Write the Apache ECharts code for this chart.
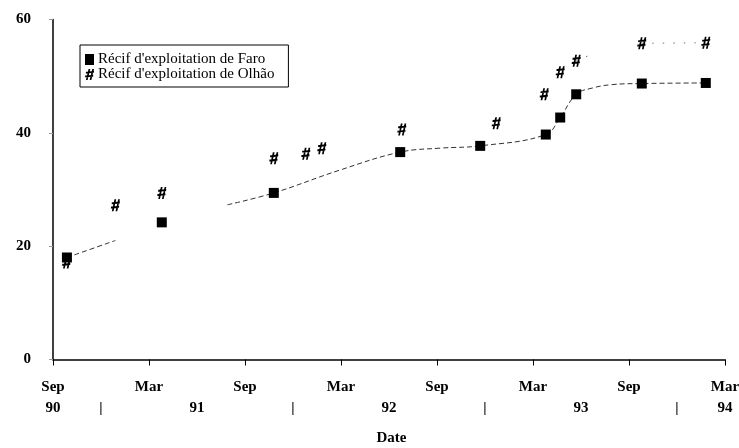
<!DOCTYPE html>
<html>
<head>
<meta charset="utf-8">
<script src="https://cdn.jsdelivr.net/npm/echarts@6/dist/echarts.min.js"></script>
<style>html,body{margin:0;padding:0;background:#fff}#c{width:739px;height:448px}</style>
</head>
<body>
<div id="c"></div>
<script>
// x values: months since 1 Sep 1990
const monthTicks = {0:'Sep',6:'Mar',12:'Sep',18:'Mar',24:'Sep',30:'Mar',36:'Sep',42:'Mar'};
const yearRow = {0:'90',3:'|',9:'91',15:'|',21:'92',27:'|',33:'93',39:'|',42:'94'};

const faroMonths = [0.87, 6.8, 13.8, 21.7, 26.7, 30.8, 31.7, 32.7, 36.8, 40.8];
const faroValues = [18.0, 24.2, 29.4, 36.6, 37.7, 39.7, 42.7, 46.8, 48.7, 48.8];

const olhaoMonths = [0.85, 3.9, 6.8, 13.8, 15.8, 16.8, 21.8, 27.7, 30.7, 31.7, 32.7, 36.8, 40.8];
const olhaoValues = [17.1, 27.2, 29.4, 35.5, 36.3, 37.3, 40.6, 41.7, 46.8, 50.7, 52.7, 55.8, 55.9];

// dashed trend curve (Faro); null = gap
const faroTrendMonths = [0.87, 3.9, 7.0, 10.9, 13.8, 17.9, 21.7, 24.2, 26.7, 30.8, 31.7, 32.7, 33.7, 34.9, 36.8, 40.8];
const faroTrendValues = [18.0, 21.0, null, 27.3, 29.4, 33.4, 36.6, 37.3, 37.7, 39.7, 42.7, 46.8, 47.9, 48.5, 48.7, 48.8];

// faint dotted trend (Olhão)
const olhaoTrendMonths = [32.7, 33.7, 35.0, 36.8, 40.8];
const olhaoTrendValues = [52.7, 53.9, null, 55.8, 55.9];

const yTicks = [0, 20, 40, 60];

const pair = (xs, ys) => xs.map((x, i) => [x, ys[i] === null ? null : ys[i]]);
// slanted, bold hash glyph
const hashPath = 'path://M4.6,0 L6.8,0 L3.4,14 L1.2,14 Z M9.4,0 L11.6,0 L8.2,14 L6,14 Z M1.2,3.4 L11.6,2.6 L11.4,4.8 L1,5.6 Z M0.2,8.4 L10.6,7.6 L10.4,9.8 L0,10.6 Z';
const serif = '"Liberation Serif", "DejaVu Serif", serif';

const chart = echarts.init(document.getElementById('c'), null, {renderer: 'canvas'});
chart.setOption({
  animation: false,
  backgroundColor: '#fff',
  grid: {left: 53, right: 14, top: 19.5, bottom: 88.5, containLabel: false, outerBoundsMode: 'none'},
  legend: {
    orient: 'vertical', left: 80, top: 45,
    data: ["Récif d'exploitation de Faro", "Récif d'exploitation de Olhão"],
    borderColor: '#000', borderWidth: 1, padding: [7, 14, 5, 5],
    itemGap: 0, itemWidth: 9, itemHeight: 11,
    textStyle: {fontFamily: serif, fontSize: 15, lineHeight: 13, color: '#000', padding: [0, 0, 0, -1]}
  },
  xAxis: [{
    type: 'value', min: 0, max: 42, interval: 6,
    axisLine: {show: true, lineStyle: {color: '#000', width: 1.5}},
    axisTick: {show: true, length: 6, lineStyle: {color: '#000', width: 1}},
    splitLine: {show: false},
    axisLabel: {margin: 20, fontFamily: serif, fontWeight: 'bold', fontSize: 15, color: '#000',
      formatter: v => monthTicks[v] || ''},
    name: 'Date', nameLocation: 'middle', nameGap: 71,
    nameTextStyle: {fontFamily: serif, fontWeight: 'bold', fontSize: 15, color: '#000', padding: [0, 0, 0, 5]}
  }, {
    type: 'value', min: 0, max: 42, interval: 1, position: 'bottom',
    axisLine: {show: false}, axisTick: {show: false}, splitLine: {show: false},
    axisLabel: {margin: 41, fontFamily: serif, fontWeight: 'bold', fontSize: 15, color: '#000',
      showMinLabel: true, showMaxLabel: true,
      formatter: v => yearRow[v] || ''}
  }],
  yAxis: {
    type: 'value', min: 0, max: 60, interval: 20,
    axisLine: {show: true, lineStyle: {color: '#000', width: 1.5}},
    axisTick: {show: true, length: 4, lineStyle: {color: '#999', width: 1}},
    splitLine: {show: false},
    axisLabel: {margin: 22, fontFamily: serif, fontWeight: 'bold', fontSize: 15, color: '#000',
      formatter: v => yTicks.includes(v) ? String(v) : ''}
  },
  series: [{
    name: 'faroTrend', type: 'line', smooth: 0.4, symbol: 'none', connectNulls: false, z: 1,
    data: pair(faroTrendMonths, faroTrendValues),
    lineStyle: {color: '#333', width: 1, type: [5, 3]}, silent: true
  }, {
    name: 'olhaoTrend', type: 'line', smooth: 0.3, symbol: 'none', connectNulls: false, z: 1,
    data: pair(olhaoTrendMonths, olhaoTrendValues),
    lineStyle: {color: '#777', width: 1, type: [1.5, 9]}, silent: true
  }, {
    name: "Récif d'exploitation de Faro", type: 'scatter', symbol: 'rect', symbolSize: 10, z: 3,
    itemStyle: {color: '#000', opacity: 1},
    data: pair(faroMonths, faroValues)
  }, {
    name: "Récif d'exploitation de Olhão", type: 'scatter', symbol: hashPath, symbolSize: [9, 12], z: 4,
    itemStyle: {color: '#000', opacity: 1},
    data: pair(olhaoMonths, olhaoValues)
  }]
});
</script>
</body>
</html>
